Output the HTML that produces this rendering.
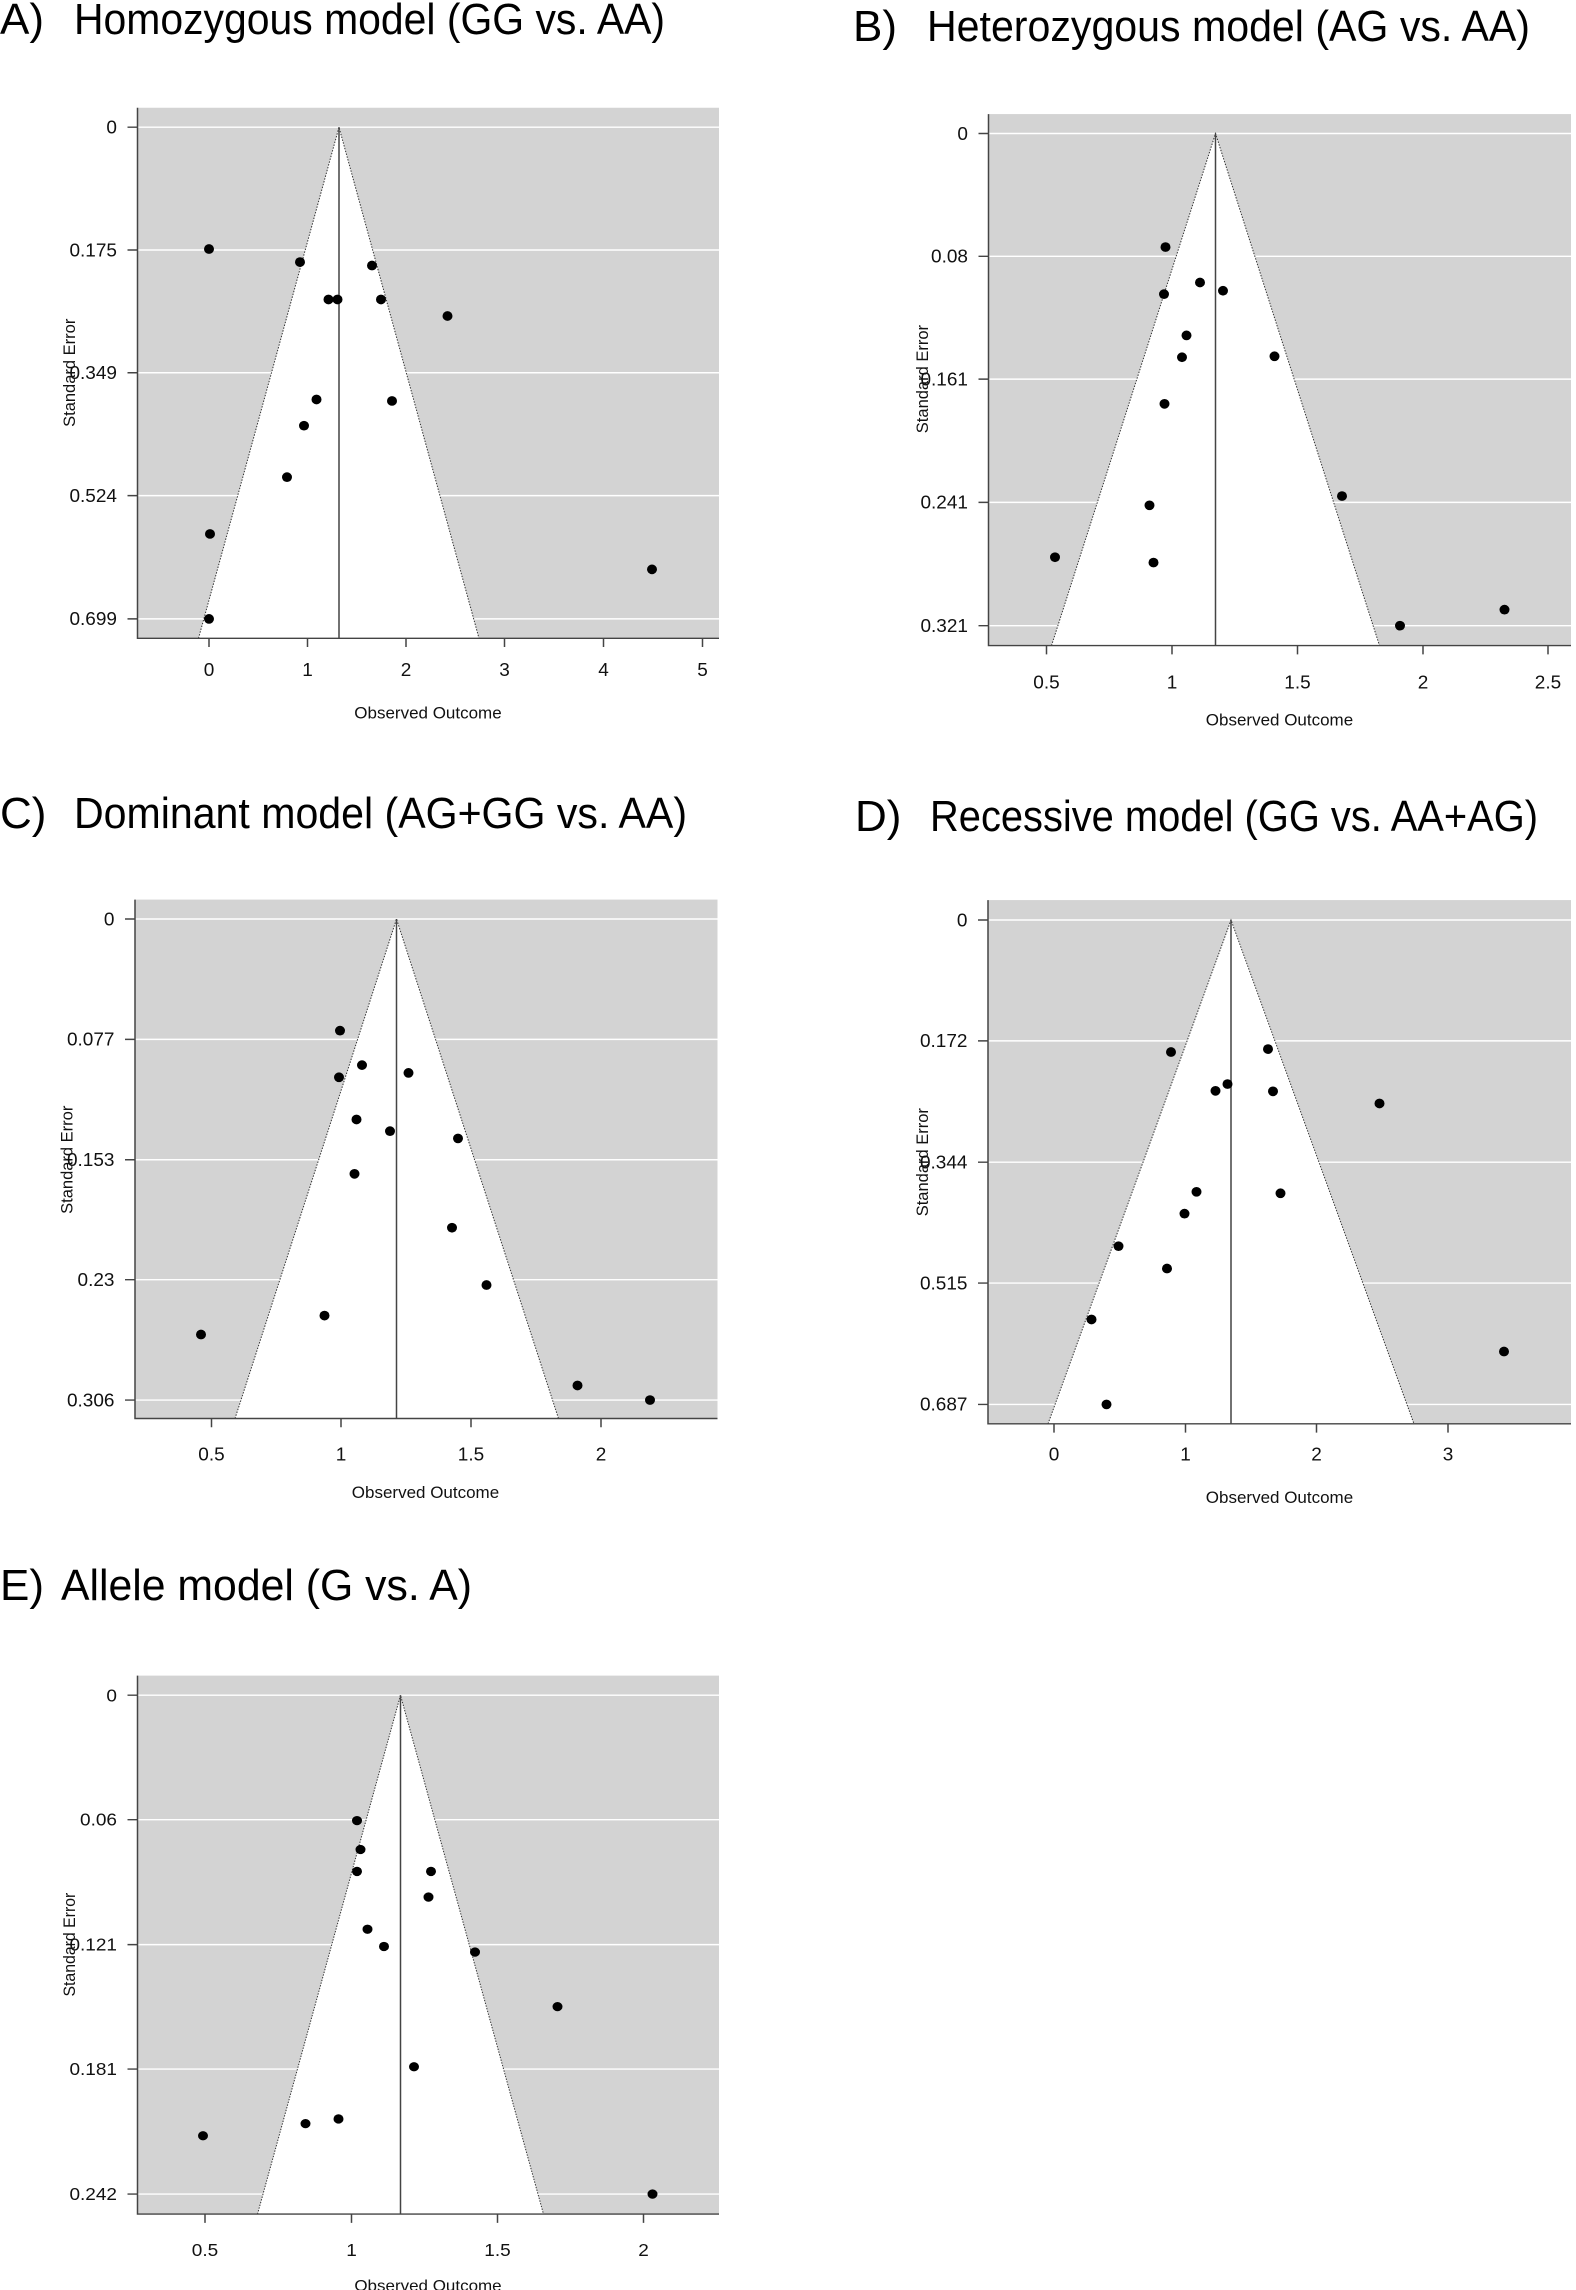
<!DOCTYPE html>
<html><head><meta charset="utf-8"><style>
html,body{margin:0;padding:0;background:#fff;}
svg{display:block;font-family:"Liberation Sans",Arial,sans-serif;}
.t{font-family:"Liberation Sans",sans-serif;font-size:44px;fill:#000;}
.tk{font-size:38px;fill:#111;}
.lb{font-size:34px;fill:#111;}
.g{stroke:#fff;stroke-width:3;}
.ax{stroke:#444;stroke-width:3;fill:none;}
.d{stroke:#333;stroke-width:2;stroke-dasharray:3 3;fill:none;}
.v{stroke:#444;stroke-width:3;}
circle{fill:#000;}
</style></head><body>
<svg width="1576" height="2290" viewBox="0 0 1576 2290" xmlns="http://www.w3.org/2000/svg">
<text class="t" x="0" y="34">A)</text><text class="t" x="74" y="34" textLength="591" lengthAdjust="spacingAndGlyphs">Homozygous model (GG vs. AA)</text>
<text class="t" x="853" y="41">B)</text><text class="t" x="927" y="41" textLength="603" lengthAdjust="spacingAndGlyphs">Heterozygous model (AG vs. AA)</text>
<text class="t" x="0" y="828">C)</text><text class="t" x="74" y="828" textLength="613" lengthAdjust="spacingAndGlyphs">Dominant model (AG+GG vs. AA)</text>
<text class="t" x="855" y="831">D)</text><text class="t" x="930" y="831" textLength="608" lengthAdjust="spacingAndGlyphs">Recessive model (GG vs. AA+AG)</text>
<text class="t" x="0" y="1600">E)</text><text class="t" x="61" y="1600" textLength="411" lengthAdjust="spacingAndGlyphs">Allele model (G vs. A)</text>

<!-- A -->
<g transform="translate(0,0) scale(0.5,0.4854)">
<rect x="275" y="222" width="1163" height="1093" fill="#d3d3d3"/>
<g class="g"><line x1="275" x2="1438" y1="262" y2="262"/><line x1="275" x2="1438" y1="515" y2="515"/><line x1="275" x2="1438" y1="768" y2="768"/><line x1="275" x2="1438" y1="1021" y2="1021"/><line x1="275" x2="1438" y1="1275" y2="1275"/></g>
<polygon points="678,262 397,1315 958,1315" fill="#fff"/>
<polyline class="d" points="397,1315 678,262 958,1315"/>
<line class="v" x1="678" y1="262" x2="678" y2="1315"/>
<polyline class="ax" points="275,222 275,1315 1438,1315"/>
<g class="ax"><path d="M255 262H275M255 515H275M255 768H275M255 1021H275M255 1275H275M418 1315V1333M615 1315V1333M812 1315V1333M1009 1315V1333M1207 1315V1333M1405 1315V1333"/></g>
<g class="tk" text-anchor="end"><text x="234" y="275">0</text><text x="234" y="528">0.175</text><text x="234" y="781">0.349</text><text x="234" y="1034">0.524</text><text x="234" y="1288">0.699</text></g>
<g class="tk" text-anchor="middle"><text x="418" y="1393">0</text><text x="615" y="1393">1</text><text x="812" y="1393">2</text><text x="1009" y="1393">3</text><text x="1207" y="1393">4</text><text x="1405" y="1393">5</text></g>
<g class="lb" text-anchor="middle"><text x="856" y="1480">Observed Outcome</text><text transform="translate(150,768) rotate(-90)">Standard Error</text></g>
<g><circle cx="418" cy="513" r="10"/><circle cx="600" cy="540" r="10"/><circle cx="744" cy="547" r="10"/><circle cx="657" cy="617" r="10"/><circle cx="675" cy="617" r="10"/><circle cx="762" cy="617" r="10"/><circle cx="895" cy="651" r="10"/><circle cx="633" cy="823" r="10"/><circle cx="784" cy="826" r="10"/><circle cx="608" cy="877" r="10"/><circle cx="574" cy="983" r="10"/><circle cx="420" cy="1100" r="10"/><circle cx="1304" cy="1173" r="10"/><circle cx="418" cy="1275" r="10"/></g>
</g>

<!-- B -->
<g transform="translate(788,0) scale(0.5,0.4854)">
<rect x="401" y="235" width="1165" height="1095" fill="#d3d3d3"/>
<g class="g"><line x1="401" x2="1566" y1="275" y2="275"/><line x1="401" x2="1566" y1="528" y2="528"/><line x1="401" x2="1566" y1="781" y2="781"/><line x1="401" x2="1566" y1="1035" y2="1035"/><line x1="401" x2="1566" y1="1289" y2="1289"/></g>
<polygon points="855,275 527,1330 1183,1330" fill="#fff"/>
<polyline class="d" points="527,1330 855,275 1183,1330"/>
<line class="v" x1="855" y1="275" x2="855" y2="1330"/>
<polyline class="ax" points="401,235 401,1330 1566,1330"/>
<g class="ax"><path d="M381 275H401M381 528H401M381 781H401M381 1035H401M381 1289H401M517 1330V1348M768 1330V1348M1019 1330V1348M1270 1330V1348M1520 1330V1348"/></g>
<g class="tk" text-anchor="end"><text x="360" y="288">0</text><text x="360" y="541">0.08</text><text x="360" y="794">0.161</text><text x="360" y="1048">0.241</text><text x="360" y="1302">0.321</text></g>
<g class="tk" text-anchor="middle"><text x="517" y="1418">0.5</text><text x="768" y="1418">1</text><text x="1019" y="1418">1.5</text><text x="1270" y="1418">2</text><text x="1520" y="1418">2.5</text></g>
<g class="lb" text-anchor="middle"><text x="983" y="1495">Observed Outcome</text><text transform="translate(280,781) rotate(-90)">Standard Error</text></g>
<g><circle cx="755" cy="509" r="10"/><circle cx="824" cy="582" r="10"/><circle cx="752" cy="606" r="10"/><circle cx="870" cy="599" r="10"/><circle cx="797" cy="691" r="10"/><circle cx="788" cy="736" r="10"/><circle cx="973" cy="734" r="10"/><circle cx="753" cy="832" r="10"/><circle cx="1108" cy="1022" r="10"/><circle cx="723" cy="1041" r="10"/><circle cx="534" cy="1148" r="10"/><circle cx="731" cy="1159" r="10"/><circle cx="1433" cy="1256" r="10"/><circle cx="1224" cy="1289" r="10"/></g>
</g>

<!-- C -->
<g transform="translate(0,770) scale(0.5,0.4854)">
<rect x="270" y="267" width="1165" height="1069" fill="#d3d3d3"/>
<g class="g"><line x1="270" x2="1435" y1="307" y2="307"/><line x1="270" x2="1435" y1="555" y2="555"/><line x1="270" x2="1435" y1="803" y2="803"/><line x1="270" x2="1435" y1="1050" y2="1050"/><line x1="270" x2="1435" y1="1298" y2="1298"/></g>
<polygon points="793,307 470,1336 1117,1336" fill="#fff"/>
<polyline class="d" points="470,1336 793,307 1117,1336"/>
<line class="v" x1="793" y1="307" x2="793" y2="1336"/>
<polyline class="ax" points="270,267 270,1336 1435,1336"/>
<g class="ax"><path d="M250 307H270M250 555H270M250 803H270M250 1050H270M250 1298H270M423 1336V1354M682 1336V1354M942 1336V1354M1202 1336V1354"/></g>
<g class="tk" text-anchor="end"><text x="229" y="320">0</text><text x="229" y="568">0.077</text><text x="229" y="816">0.153</text><text x="229" y="1063">0.23</text><text x="229" y="1311">0.306</text></g>
<g class="tk" text-anchor="middle"><text x="423" y="1423">0.5</text><text x="682" y="1423">1</text><text x="942" y="1423">1.5</text><text x="1202" y="1423">2</text></g>
<g class="lb" text-anchor="middle"><text x="851" y="1500">Observed Outcome</text><text transform="translate(145,803) rotate(-90)">Standard Error</text></g>
<g><circle cx="680" cy="537" r="10"/><circle cx="724" cy="608" r="10"/><circle cx="678" cy="633" r="10"/><circle cx="817" cy="624" r="10"/><circle cx="713" cy="720" r="10"/><circle cx="780" cy="744" r="10"/><circle cx="916" cy="759" r="10"/><circle cx="709" cy="832" r="10"/><circle cx="904" cy="943" r="10"/><circle cx="973" cy="1061" r="10"/><circle cx="649" cy="1124" r="10"/><circle cx="402" cy="1163" r="10"/><circle cx="1155" cy="1268" r="10"/><circle cx="1300" cy="1298" r="10"/></g>
</g>

<!-- D -->
<g transform="translate(788,770) scale(0.5,0.4854)">
<rect x="400" y="268" width="1166" height="1079" fill="#d3d3d3"/>
<g class="g"><line x1="400" x2="1566" y1="309" y2="309"/><line x1="400" x2="1566" y1="558" y2="558"/><line x1="400" x2="1566" y1="808" y2="808"/><line x1="400" x2="1566" y1="1057" y2="1057"/><line x1="400" x2="1566" y1="1307" y2="1307"/></g>
<polygon points="886,309 520,1347 1252,1347" fill="#fff"/>
<polyline class="d" points="520,1347 886,309 1252,1347"/>
<line class="v" x1="886" y1="309" x2="886" y2="1347"/>
<polyline class="ax" points="400,268 400,1347 1566,1347"/>
<g class="ax"><path d="M380 309H400M380 558H400M380 808H400M380 1057H400M380 1307H400M532 1347V1365M795 1347V1365M1057 1347V1365M1320 1347V1365"/></g>
<g class="tk" text-anchor="end"><text x="359" y="322">0</text><text x="359" y="571">0.172</text><text x="359" y="821">0.344</text><text x="359" y="1070">0.515</text><text x="359" y="1320">0.687</text></g>
<g class="tk" text-anchor="middle"><text x="532" y="1423">0</text><text x="795" y="1423">1</text><text x="1057" y="1423">2</text><text x="1320" y="1423">3</text></g>
<g class="lb" text-anchor="middle"><text x="983" y="1510">Observed Outcome</text><text transform="translate(280,808) rotate(-90)">Standard Error</text></g>
<g><circle cx="766" cy="581" r="10"/><circle cx="960" cy="575" r="10"/><circle cx="855" cy="661" r="10"/><circle cx="879" cy="647" r="10"/><circle cx="970" cy="662" r="10"/><circle cx="1183" cy="687" r="10"/><circle cx="817" cy="869" r="10"/><circle cx="985" cy="872" r="10"/><circle cx="793" cy="914" r="10"/><circle cx="661" cy="981" r="10"/><circle cx="758" cy="1027" r="10"/><circle cx="607" cy="1132" r="10"/><circle cx="1432" cy="1198" r="10"/><circle cx="637" cy="1307" r="10"/></g>
</g>

<!-- E -->
<g transform="translate(0,1560) scale(0.5,0.4662)">
<rect x="275" y="248" width="1163" height="1155" fill="#d3d3d3"/>
<g class="g"><line x1="275" x2="1438" y1="290" y2="290"/><line x1="275" x2="1438" y1="557" y2="557"/><line x1="275" x2="1438" y1="825" y2="825"/><line x1="275" x2="1438" y1="1092" y2="1092"/><line x1="275" x2="1438" y1="1360" y2="1360"/></g>
<polygon points="801,290 515,1403 1087,1403" fill="#fff"/>
<polyline class="d" points="515,1403 801,290 1087,1403"/>
<line class="v" x1="801" y1="290" x2="801" y2="1403"/>
<polyline class="ax" points="275,248 275,1403 1438,1403"/>
<g class="ax"><path d="M255 290H275M255 557H275M255 825H275M255 1092H275M255 1360H275M410 1403V1422M703 1403V1422M995 1403V1422M1287 1403V1422"/></g>
<g class="tk" text-anchor="end"><text x="234" y="303">0</text><text x="234" y="570">0.06</text><text x="234" y="838">0.121</text><text x="234" y="1105">0.181</text><text x="234" y="1373">0.242</text></g>
<g class="tk" text-anchor="middle"><text x="410" y="1493">0.5</text><text x="703" y="1493">1</text><text x="995" y="1493">1.5</text><text x="1287" y="1493">2</text></g>
<g class="lb" text-anchor="middle"><text x="856" y="1568">Observed Outcome</text><text transform="translate(150,825) rotate(-90)">Standard Error</text></g>
<g><circle cx="714" cy="559" r="10"/><circle cx="721" cy="621" r="10"/><circle cx="714" cy="668" r="10"/><circle cx="862" cy="668" r="10"/><circle cx="857" cy="723" r="10"/><circle cx="735" cy="792" r="10"/><circle cx="768" cy="829" r="10"/><circle cx="950" cy="841" r="10"/><circle cx="1115" cy="958" r="10"/><circle cx="828" cy="1087" r="10"/><circle cx="677" cy="1199" r="10"/><circle cx="611" cy="1209" r="10"/><circle cx="406" cy="1235" r="10"/><circle cx="1305" cy="1360" r="10"/></g>
</g>
</svg>
</body></html>
